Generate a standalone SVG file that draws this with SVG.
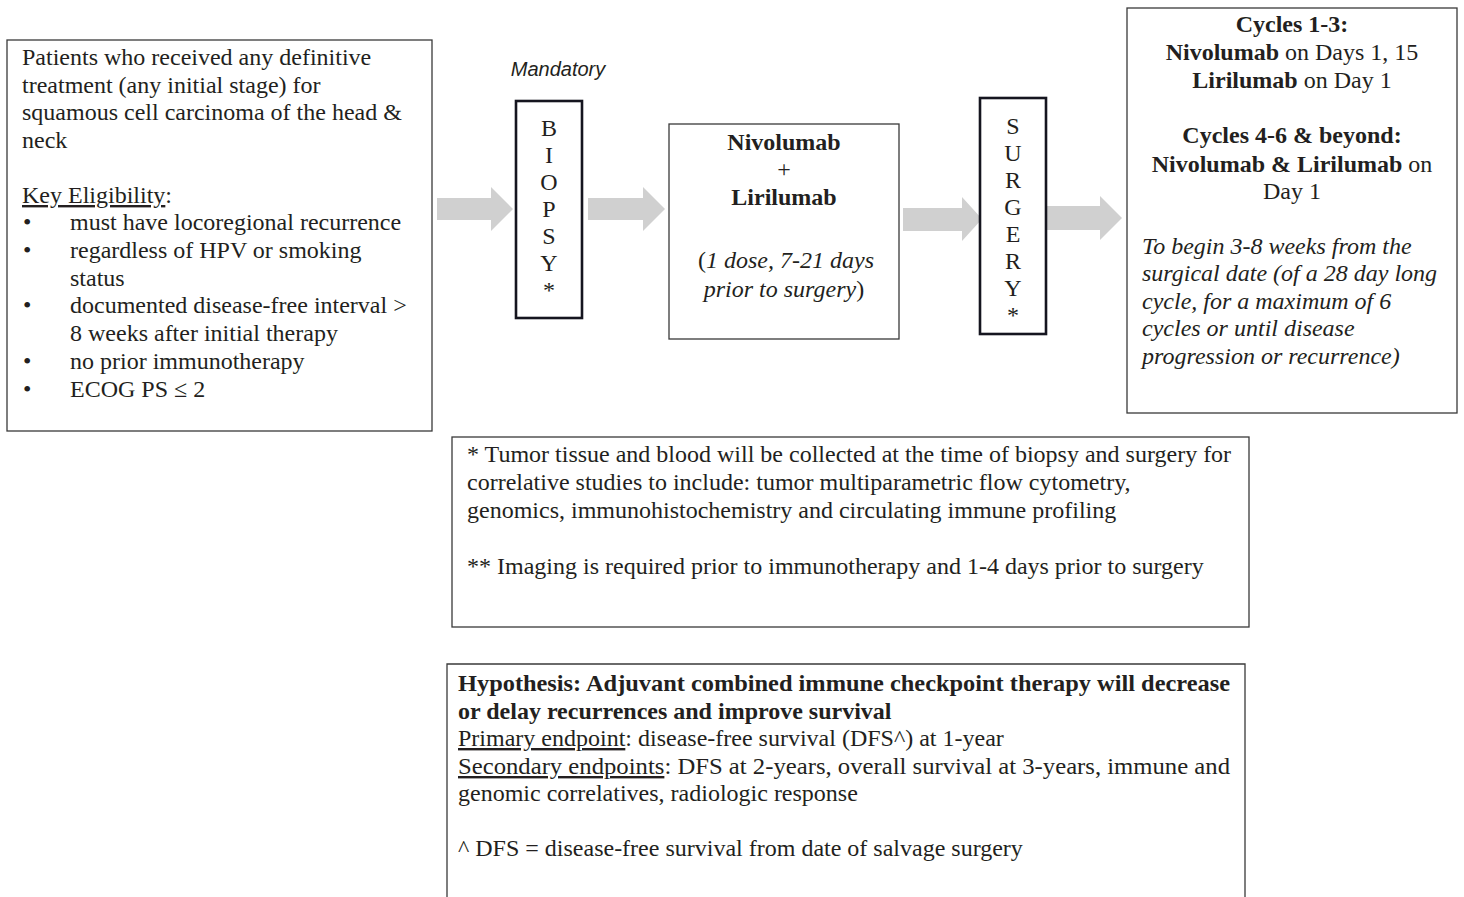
<svg xmlns="http://www.w3.org/2000/svg" width="1464" height="897" viewBox="0 0 1464 897">
<style>
.box{fill:#fff;stroke:#3a3a3a;stroke-width:1.3}
.vbox{fill:#fff;stroke:#15151f;stroke-width:2.6}
.t{font-family:"Liberation Serif","Times New Roman",serif;font-size:24px;fill:#231f20}
.c{text-anchor:middle}
.b{font-weight:bold}
.i{font-style:italic}
.u{text-decoration:underline}
.arrow{fill:#d0d0d0}
.sans{font-family:"Liberation Sans",Arial,sans-serif;font-style:italic;font-size:20px;fill:#231f20}
</style>
<rect width="1464" height="897" fill="#fff"/>

<g id="connectors">
<polygon class="arrow" points="437,198 491,198 491,187 513,209 491,231 491,220 437,220"/>
<polygon class="arrow" points="588,198 643,198 643,187 665,209 643,231 643,220 588,220"/>
<polygon class="arrow" points="903,208 962,208 962,197 982,219 962,241 962,231 903,231"/>
<polygon class="arrow" points="1045,206 1100,206 1100,196 1122,218 1100,240 1100,230 1045,230"/>
</g>

<g id="patients">
<rect class="box" x="7" y="40" width="425" height="391"/>
<text class="t" x="22" y="65">Patients who received any definitive</text>
<text class="t" x="22" y="93">treatment (any initial stage) for</text>
<text class="t" x="22" y="120">squamous cell carcinoma of the head &amp;</text>
<text class="t" x="22" y="148">neck</text>
<text class="t" x="22" y="203"><tspan class="u">Key Eligibility</tspan>:</text>
<text class="t" x="23" y="230">•</text><text class="t" x="70" y="230">must have locoregional recurrence</text>
<text class="t" x="23" y="258">•</text><text class="t" x="70" y="258">regardless of HPV or smoking</text>
<text class="t" x="70" y="286">status</text>
<text class="t" x="23" y="313">•</text><text class="t" x="70" y="313">documented disease-free interval &gt;</text>
<text class="t" x="70" y="341">8 weeks after initial therapy</text>
<text class="t" x="23" y="369">•</text><text class="t" x="70" y="369">no prior immunotherapy</text>
<text class="t" x="23" y="397">•</text><text class="t" x="70" y="397">ECOG PS ≤ 2</text>
</g>

<g id="mandatory">
<text class="sans" x="558" y="76" text-anchor="middle">Mandatory</text>
</g>

<g id="biopsy">
<rect class="vbox" x="516" y="101" width="66" height="217"/>
<text class="t c" x="549" y="136">B</text>
<text class="t c" x="549" y="163">I</text>
<text class="t c" x="549" y="190">O</text>
<text class="t c" x="549" y="217">P</text>
<text class="t c" x="549" y="244">S</text>
<text class="t c" x="549" y="271">Y</text>
<text class="t c" x="549" y="298">*</text>
</g>

<g id="drug">
<rect class="box" x="669" y="124" width="230" height="215"/>
<text class="t c b" x="784" y="150">Nivolumab</text>
<text class="t c" x="784" y="177">+</text>
<text class="t c b" x="784" y="205">Lirilumab</text>
<text class="t c" x="786" y="268">(<tspan class="i">1 dose, 7-21 days</tspan></text>
<text class="t c" x="784" y="297"><tspan class="i">prior to surgery</tspan>)</text>
</g>

<g id="surgery">
<rect class="vbox" x="980" y="98" width="66" height="236"/>
<text class="t c" x="1013" y="134">S</text>
<text class="t c" x="1013" y="161">U</text>
<text class="t c" x="1013" y="188">R</text>
<text class="t c" x="1013" y="215">G</text>
<text class="t c" x="1013" y="242">E</text>
<text class="t c" x="1013" y="269">R</text>
<text class="t c" x="1013" y="296">Y</text>
<text class="t c" x="1013" y="323">*</text>
</g>

<g id="cycles">
<rect class="box" x="1127" y="8" width="330" height="405"/>
<text class="t c b" x="1292" y="32">Cycles 1-3:</text>
<text class="t c" x="1292" y="60"><tspan class="b">Nivolumab</tspan> on Days 1, 15</text>
<text class="t c" x="1292" y="88"><tspan class="b">Lirilumab</tspan> on Day 1</text>
<text class="t c b" x="1292" y="143">Cycles 4-6 &amp; beyond:</text>
<text class="t c" x="1292" y="172"><tspan class="b">Nivolumab &amp; Lirilumab</tspan> on</text>
<text class="t c" x="1292" y="199">Day 1</text>
<text class="t i" x="1142" y="254">To begin 3-8 weeks from the</text>
<text class="t i" x="1142" y="281">surgical date (of a 28 day long</text>
<text class="t i" x="1142" y="309">cycle, for a maximum of 6</text>
<text class="t i" x="1142" y="336">cycles or until disease</text>
<text class="t i" x="1142" y="364">progression or recurrence)</text>
</g>

<g id="notes">
<rect class="box" x="452" y="437" width="797" height="190"/>
<text class="t" x="467" y="462">* Tumor tissue and blood will be collected at the time of biopsy and surgery for</text>
<text class="t" x="467" y="490">correlative studies to include: tumor multiparametric flow cytometry,</text>
<text class="t" x="467" y="518">genomics, immunohistochemistry and circulating immune profiling</text>
<text class="t" x="467" y="574">** Imaging is required prior to immunotherapy and 1-4 days prior to surgery</text>
</g>

<g id="hypothesis">
<path class="box" d="M447,900 V664 H1245 V900"/>
<text class="t b" x="458" y="691" textLength="772" lengthAdjust="spacingAndGlyphs">Hypothesis: Adjuvant combined immune checkpoint therapy will decrease</text>
<text class="t b" x="458" y="719">or delay recurrences and improve survival</text>
<text class="t" x="458" y="746"><tspan class="u">Primary endpoint</tspan>: disease-free survival (DFS^) at 1-year</text>
<text class="t" x="458" y="774" textLength="772" lengthAdjust="spacingAndGlyphs"><tspan class="u">Secondary endpoints</tspan>: DFS at 2-years, overall survival at 3-years, immune and</text>
<text class="t" x="458" y="801">genomic correlatives, radiologic response</text>
<text class="t" x="458" y="856">^ DFS = disease-free survival from date of salvage surgery</text>
</g>
</svg>
